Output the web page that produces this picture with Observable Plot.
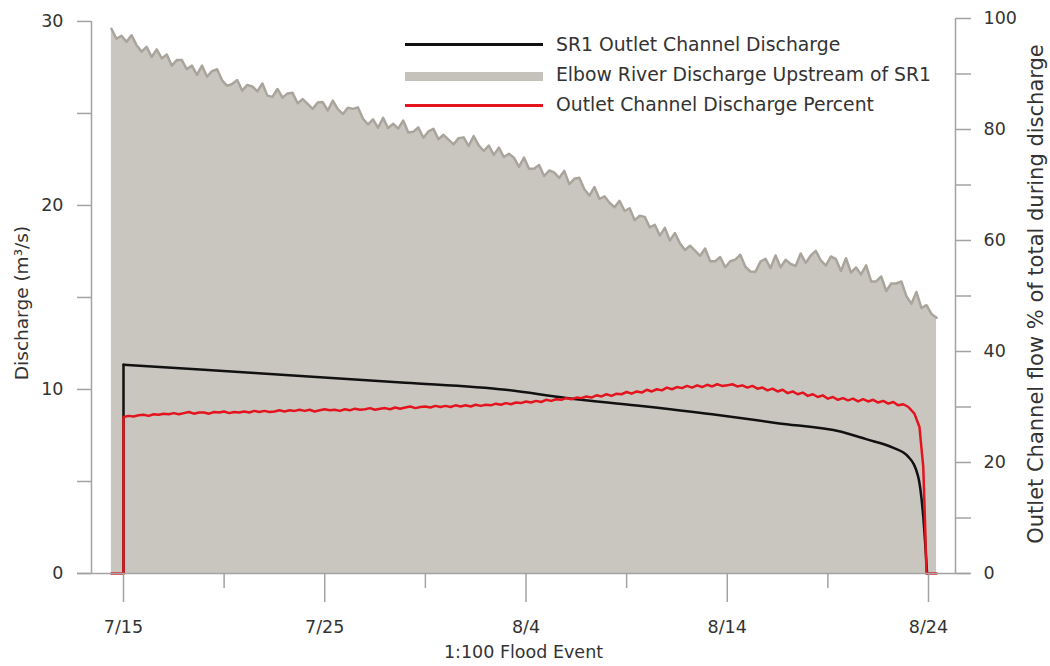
<!DOCTYPE html>
<html><head><meta charset="utf-8">
<script src="https://cdn.jsdelivr.net/npm/d3@7"></script>
<script src="https://cdn.jsdelivr.net/npm/@observablehq/plot@0.6"></script>
<style>
body{margin:0;background:#fff;}
#wrap{position:relative;width:1050px;height:666px;font-family:"DejaVu Sans",sans-serif;color:#333;}
.lgl{position:absolute;left:405px;width:138px;}
.lgt{position:absolute;left:556px;font-size:18.8px;line-height:1;white-space:nowrap;transform:translateY(-50%);color:#333;}
</style></head><body><div id="wrap"></div><script>
// ---------- data ----------
const seriesNames = ["SR1 Outlet Channel Discharge", "Elbow River Discharge Upstream of SR1", "Outlet Channel Discharge Percent"];
const startDate = "2013-07-15";
const majorTickDates = ["2013-07-15", "2013-07-25", "2013-08-04", "2013-08-14", "2013-08-24"];
const minorTickDates = ["2013-07-20", "2013-07-30", "2013-08-09", "2013-08-19"];
const leftTicks = [0, 5, 10, 15, 20, 25, 30];
const rightTicks = [0, 10, 20, 30, 40, 50, 60, 70, 80, 90, 100];

// Elbow River discharge (m3/s), every 0.25 day from day -0.6
const elbowStartDay = -0.6, elbowStepDay = 0.25;
const elbowValues = [
29.6,29.06,29.22,28.89, 29.25,28.71,28.36,28.62, 28.07,28.48,27.99,28.2, 27.6,27.9,27.9,27.4,
27.6,27.1,27.6,27.0, 27.3,27.4,26.8,26.5, 26.6,26.82,26.24,26.55, 26.47,26.2,26.63,25.97,
25.9,26.33,25.86,26.09, 26.12,25.55,25.78,25.52, 25.25,25.59,25.62,25.16, 25.7,25.24,24.97,25.31,
25.25,25.33,24.71,24.4, 24.68,24.22,24.76,24.2, 24.44,24.18,24.62,23.96, 24.0,24.24,23.68,24.02,
24.16,23.6,23.84,23.58, 23.32,23.66,23.7,23.23, 23.77,23.27,22.96,23.26, 22.75,23.14,22.63,22.81,
22.6,22.1,22.6,22.0, 22.0,22.2,21.6,21.9, 21.8,21.49,21.88,21.16, 21.45,21.51,20.88,20.54,
21.0,20.35,20.5,20.15, 19.9,20.25,19.7,19.85, 19.2,19.44,19.38,18.81, 18.95,18.36,18.78,18.09,
18.5,17.94,17.58,17.81, 17.55,17.26,17.66,16.97, 16.97,17.2,16.64,16.97, 17.06,17.32,16.67,16.41,
16.4,16.95,17.1,16.6, 17.28,16.64,17.05,16.82, 16.71,17.39,16.87,17.28, 17.53,17.01,16.73,17.23,
17.08,16.44,17.13,16.35, 16.63,16.25,16.75,15.87, 15.87,16.14,15.35,15.76, 15.76,15.87,15.07,14.66,
15.3,14.42,14.58,14.1, 13.9
];

// Outlet channel discharge percent (%), every 0.25 day from day 0
const pctStartDay = 0, pctStepDay = 0.25;
const pctValues = [
28.2,28.4,28.3,28.5, 28.6,28.4,28.7,28.6, 28.8,28.7,28.9,28.7, 28.9,29.1,28.8,29.0,
29.0,28.8,29.1,29.0, 29.2,28.9,29.1,29.0, 29.2,29.0,29.3,29.1, 29.3,29.1,29.2,29.4,
29.2,29.4,29.3,29.5, 29.3,29.5,29.2,29.4, 29.6,29.4,29.5,29.3, 29.6,29.4,29.7,29.5,
29.6,29.8,29.5,29.7, 29.8,29.6,29.9,29.7, 29.9,30.1,29.8,30.0, 30.1,29.9,30.2,30.0,
30.2,30.0,30.3,30.1, 30.3,30.1,30.4,30.2, 30.4,30.3,30.6,30.4, 30.7,30.5,30.8,30.7,
31.0,30.8,31.1,30.9, 31.3,31.1,31.4,31.3, 31.6,31.4,31.7,31.6, 31.9,31.7,32.1,31.9,
32.3,32.0,32.4,32.3, 32.7,32.4,32.8,32.6, 33.1,32.8,33.2,33.0, 33.5,33.2,33.6,33.4,
33.8,33.5,33.9,33.6, 34.0,33.7,34.1,33.8, 33.9,34.1,33.7,33.9, 33.5,33.8,33.3,33.5,
33.0,33.3,32.8,33.1, 32.5,32.8,32.3,32.6, 32.0,32.3,31.8,32.1, 31.5,31.8,31.3,31.6,
31.2,31.5,31.0,31.4, 31.0,31.3,30.8,31.1, 30.6,30.9,30.3,30.5, 30.0
];
const pctHeadDays = [-0.6, 0];
const pctHeadValues = [0, 0];
const pctTailDays = [39.3, 39.55, 39.74, 39.82, 39.9, 40.4];
const pctTailValues = [28.8, 26.4, 19.2, 10.1, 0, 0];

// SR1 outlet channel discharge (m3/s)
const outletDays = [0, 0, 4, 9, 14, 19, 22, 25.5, 29.25, 32.5, 35.67, 36.9, 38.2, 39.0, 39.49, 39.74, 39.93];
const outletValues = [0, 11.35, 11.07, 10.72, 10.37, 9.98, 9.54, 9.13, 8.65, 8.17, 7.7, 7.3, 6.85, 6.34, 5.25, 3.07, 0];

// ---------- build ----------
const DAY = 864e5;
const t0 = new Date(startDate + "T00:00:00Z").getTime();
const atDay = d => new Date(t0 + d * DAY);
const pxPerDay = 20.125, px0 = 123; // layout of the time axis
const atPx = px => atDay((px - px0) / pxPerDay);
const k = 30.16 / 100; // percent -> left axis units

const elbow = elbowValues.map((v, i) => ({date: atDay(elbowStartDay + i * elbowStepDay), value: v}));
const pct = [
  ...pctHeadDays.map((d, i) => ({date: atDay(d), value: pctHeadValues[i]})),
  ...pctValues.map((v, i) => ({date: atDay(pctStartDay + i * pctStepDay), value: v})),
  ...pctTailDays.map((d, i) => ({date: atDay(d), value: pctTailValues[i]}))
];
const outlet = outletDays.map((d, i) => ({date: atDay(d), value: outletValues[i]}));
const majors = majorTickDates.map(s => new Date(s + "T00:00:00Z"));
const minors = minorTickDates.map(s => new Date(s + "T00:00:00Z"));

const axisColor = "#a3a3a3", textColor = "#333";
const xStart = atPx(91), xEnd = atPx(955);

const chart = Plot.plot({
  width: 1050, height: 666,
  marginLeft: 91, marginRight: 95, marginTop: 18, marginBottom: 93,
  x: {type: "utc", domain: [xStart, xEnd]},
  y: {domain: [0, 100 * k]},
  style: {fontFamily: "DejaVu Sans, sans-serif", fontSize: "17.5px", color: textColor, background: "#fff"},
  marks: [
    Plot.areaY(elbow, {x: "date", y: "value", fill: "#c9c6c0"}),
    Plot.lineY(elbow, {x: "date", y: "value", stroke: "#aaa59c", strokeWidth: 2.5}),
    Plot.lineY(outlet.slice(0, 2), {x: "date", y: "value", stroke: "#111", strokeWidth: 2.5}),
    Plot.lineY(outlet.slice(1), {x: "date", y: "value", stroke: "#111", strokeWidth: 2.5, curve: "monotone-x"}),
    Plot.lineY(pct, {x: "date", y: d => d.value * k, stroke: "#e3141e", strokeWidth: 2.5}),
    Plot.ruleY([0], {x1: () => atPx(77), x2: () => atPx(970), stroke: axisColor, strokeWidth: 1.5}),
    Plot.ruleX([xStart], {y1: 0, y2: 30, stroke: axisColor, strokeWidth: 1.5}),
    Plot.ruleX([xEnd], {y1: 0, y2: 100 * k, stroke: axisColor, strokeWidth: 1.5}),
    Plot.axisY({anchor: "left", ticks: leftTicks, tickSize: 14, tickPadding: 14,
      tickFormat: d => d % 10 === 0 ? String(d) : "", stroke: axisColor, strokeWidth: 1.5, fill: textColor, label: null}),
    Plot.axisY({anchor: "right", ticks: rightTicks.map(p => p * k), tickSize: 15, tickPadding: 13,
      tickFormat: d => { const p = Math.round(d / k); return p % 20 === 0 ? String(p) : ""; },
      stroke: axisColor, strokeWidth: 1.5, fill: textColor, label: null}),
    Plot.axisX({ticks: majors, tickSize: 29, tickPadding: 18, tickFormat: d3.utcFormat("%-m/%-d"),
      stroke: axisColor, strokeWidth: 1.5, fill: textColor, label: null}),
    Plot.axisX({ticks: minors, tickSize: 15, tickFormat: () => "", stroke: axisColor, strokeWidth: 1.5, label: null}),
    Plot.text(["Discharge (m³/s)"], {text: d => d, frameAnchor: "left", textAnchor: "middle", lineAnchor: "middle", dx: -69, dy: 7, rotate: -90, fontSize: 18.5, fill: textColor}),
    Plot.text(["Outlet Channel flow % of total during discharge"], {text: d => d, frameAnchor: "right", textAnchor: "middle", lineAnchor: "middle", dx: 81, dy: -2, rotate: -90, fontSize: 21, fill: textColor}),
    Plot.text(["1:100 Flood Event"], {text: d => d, frameAnchor: "bottom", textAnchor: "middle", lineAnchor: "middle", dy: 79, fontSize: 17.5, fill: textColor})
  ]
});
const wrap = document.getElementById("wrap");
wrap.appendChild(chart);

// legend
const legendStyles = [
  {top: 43, height: 3, bg: "#111", textTop: 45},
  {top: 72, height: 9, bg: "#c5c2bc", textTop: 75},
  {top: 104, height: 3, bg: "#e3141e", textTop: 105}
];
seriesNames.forEach((name, i) => {
  const s = legendStyles[i];
  const line = document.createElement("div");
  line.className = "lgl";
  line.style.top = s.top + "px"; line.style.height = s.height + "px"; line.style.background = s.bg;
  wrap.appendChild(line);
  const t = document.createElement("div");
  t.className = "lgt";
  t.style.top = s.textTop + "px";
  t.textContent = name;
  wrap.appendChild(t);
});
</script></body></html>
